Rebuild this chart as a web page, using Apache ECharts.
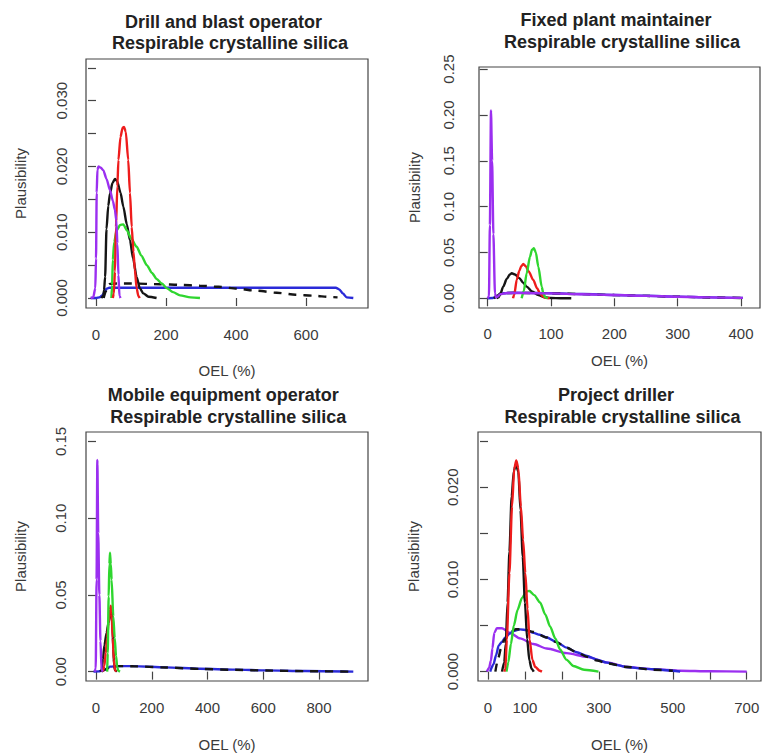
<!DOCTYPE html>
<html>
<head>
<meta charset="utf-8">
<script src="https://cdn.jsdelivr.net/npm/echarts@6/dist/echarts.min.js"></script>
<style>
html,body{margin:0;padding:0;background:#fff;}
#chart{width:763px;height:753px;}
</style>
</head>
<body>
<div id="chart"></div>
<script>
// ---------- Titles ----------
const panelTitles = [
  ['Drill and blast operator', 'Respirable crystalline silica'],
  ['Fixed plant maintainer', 'Respirable crystalline silica'],
  ['Mobile equipment operator', 'Respirable crystalline silica'],
  ['Project driller', 'Respirable crystalline silica']
];
const xAxisName = 'OEL (%)';
const yAxisName = 'Plausibility';

// ---------- Tick values ----------
const d1XTicks = [0, 200, 400, 600];
const d1YTicks = [0, 0.005, 0.01, 0.015, 0.02, 0.025, 0.03, 0.035];
const d1YLabels = [0, 0.01, 0.02, 0.03];
const f2XTicks = [0, 100, 200, 300, 400];
const f2YTicks = [0, 0.05, 0.1, 0.15, 0.2, 0.25];
const m3XTicks = [0, 200, 400, 600, 800];
const m3YTicks = [0, 0.05, 0.1, 0.15];
const p4XTicks = [0, 100, 200, 300, 400, 500, 600, 700];
const p4XLabels = [0, 100, 300, 500, 700];
const p4YTicks = [0, 0.005, 0.01, 0.015, 0.02, 0.025];
const p4YLabels = [0, 0.01, 0.02];

// ---------- Panel 1: Drill and blast operator ----------
const d1Purple = [[-15,0],[-8,0.0001],[-2,0.0015],[0,0.006],[2,0.016],[4,0.0195],[7,0.0200],[14,0.0198],[21,0.0194],[30,0.0181],[40,0.0164],[48,0.0148],[54,0.0134],[58,0.0118],[61,0.0083],[64,0.0035],[67,0.0003],[70,0]];
const d1Black = [[15,0],[21,0.0003],[23,0.0012],[26,0.0032],[30,0.0105],[35,0.0140],[40,0.0159],[47,0.0175],[54,0.0181],[60,0.0178],[70,0.0160],[78,0.0139],[88,0.0112],[97,0.0088],[106,0.0060],[116,0.0032],[125,0.0015],[135,0.0007],[150,0.0002],[173,0]];
const d1Red = [[48,0],[51,0.0007],[54,0.004],[57,0.0108],[61,0.017],[64,0.021],[70,0.0245],[76,0.0259],[80,0.026],[85,0.0253],[92,0.021],[97,0.016],[102,0.0108],[107,0.007],[111,0.0043],[116,0.0015],[121,0.0003],[125,0]];
const d1Green = [[44,0],[46,0.002],[48,0.0058],[52,0.0085],[59,0.0103],[69,0.0111],[78,0.0112],[88,0.0103],[100,0.0091],[116,0.0078],[130,0.0064],[145,0.0050],[160,0.0038],[173,0.0029],[188,0.0022],[202,0.0015],[220,0.0009],[240,0.0004],[270,0.0001],[297,0]];
const d1Blue = [[-15,0],[0,0],[10,0.0001],[18,0.0004],[24,0.0009],[30,0.0014],[38,0.00157],[100,0.00157],[300,0.00157],[500,0.00157],[685,0.00157],[695,0.0013],[705,0.0007],[716,0.0001],[735,0]];
const d1Dashed = [[22,0],[28,0.0010],[33,0.0019],[40,0.00215],[60,0.0022],[100,0.0022],[183,0.0021],[240,0.0020],[297,0.00187],[350,0.0017],[402,0.00142],[460,0.0011],[516,0.0008],[570,0.0005],[621,0.00035],[669,0.00015],[690,0.0001]];

// ---------- Panel 2: Fixed plant maintainer ----------
const f2Purple = [[0,0],[2,0.002],[3.5,0.08],[5.2,0.205],[7,0.15],[9,0.07],[11.5,0.0055],[13,0.001],[16,0.002],[20,0.0045],[30,0.0057],[60,0.0058],[100,0.0053],[150,0.0044],[200,0.0035],[250,0.0026],[300,0.0017],[350,0.001],[403,0.0004]];
const f2Black = [[14,0],[17,0.001],[19.4,0.0036],[24.6,0.0127],[30,0.021],[35,0.026],[38,0.0273],[43,0.026],[50,0.022],[56,0.017],[61.6,0.0127],[70,0.0075],[80,0.0036],[90,0.0012],[100,0.0003],[115,0.0001],[132,0]];
const f2Red = [[40,0],[42,0.004],[45.8,0.020],[50,0.030],[53,0.035],[56.2,0.0374],[60,0.035],[65,0.029],[72,0.020],[78,0.011],[82.6,0.0055],[87,0.002],[91,0.0005],[98,0]];
const f2Green = [[53.7,0],[57,0.008],[61.6,0.0273],[66.8,0.0454],[70,0.053],[73,0.0545],[76,0.050],[80,0.0345],[85.3,0.0127],[88,0.005],[91,0.001],[95,0]];
const f2Blue = [[0,0],[8,0.0003],[14,0.0015],[19,0.0045],[25,0.0055],[40,0.006],[80,0.0058],[100,0.0055],[150,0.0046],[200,0.0036],[250,0.0027],[300,0.0018],[350,0.001],[403,0.0004]];
const f2Dashed = [[10,0],[16,0.003],[20,0.0052],[30,0.0057],[60,0.0058],[100,0.0054],[150,0.0045],[200,0.0035],[250,0.0026],[300,0.0017],[350,0.0009],[403,0.0003]];

// ---------- Panel 3: Mobile equipment operator ----------
const m3Purple = [[-4,0],[-1,0.002],[2,0.06],[4.8,0.138],[8,0.09],[12,0.05],[16,0.02],[20,0.001],[24,0]];
const m3Black = [[15,0],[20,0.001],[25,0.008],[30,0.017],[38,0.0253],[45,0.032],[52,0.038],[56,0.0405],[59,0.03],[62,0.015],[65,0.004],[68,0.001],[75,0]];
const m3Red = [[25,0],[30,0.004],[35,0.012],[40,0.022],[45,0.032],[50,0.040],[53,0.043],[56,0.038],[60,0.022],[64,0.008],[68,0.001],[72,0]];
const m3Green = [[40,0],[42,0.012],[45.4,0.049],[48,0.07],[50.2,0.0775],[53,0.070],[56,0.060],[62,0.036],[67,0.022],[72,0.010],[76,0.003],[80,0.0005],[86,0]];
const m3Blue = [[-9,0],[10,0.0002],[25,0.0008],[40,0.002],[50,0.0033],[80,0.0036],[134,0.0036],[250,0.0028],[373,0.0019],[500,0.0013],[612,0.0008],[750,0.0004],[923,0]];
const m3Dashed = [[20,0],[35,0.0015],[50,0.0032],[80,0.0036],[134,0.0035],[250,0.0027],[373,0.0018],[500,0.0012],[612,0.0007],[750,0.0003],[923,0]];

// ---------- Panel 4: Project driller ----------
const p4Purple = [[-3,0],[3,0.0004],[8,0.0012],[12,0.0025],[17,0.0042],[24,0.0047],[38,0.0047],[60,0.0042],[87,0.0036],[123,0.0030],[159,0.0025],[213,0.0020],[268,0.0016],[321,0.0010],[376,0.0005],[448,0.00025],[520,0.0001],[600,0.00003],[700,0]];
const p4Black = [[38,0],[44,0.001],[48,0.003],[53,0.0075],[58,0.013],[64,0.019],[70,0.0218],[76,0.0225],[82,0.0217],[88,0.0175],[94,0.0125],[100,0.0075],[106,0.0035],[112,0.0012],[118,0.0003],[124,0]];
const p4Red = [[44,0],[47,0.0003],[51,0.0035],[58,0.0107],[65,0.0179],[71,0.0220],[76.5,0.0229],[82,0.0221],[89,0.0179],[95,0.0143],[101,0.0107],[107,0.0068],[112.5,0.0035],[120,0.0013],[128,0.0005],[140,0.0001],[146,0]];
const p4Green = [[50,0],[55,0.001],[62,0.003],[70,0.005],[80,0.0067],[92,0.0080],[105,0.0087],[112,0.00875],[125,0.0083],[141,0.0075],[155,0.0062],[168,0.0049],[182,0.0036],[195,0.0024],[212,0.0013],[231,0.0006],[260,0.0002],[299,0]];
const p4Blue = [[6,0],[15,0.0008],[22,0.0018],[28.7,0.0028],[37,0.0032],[46.8,0.0037],[58,0.0041],[69,0.0044],[87,0.00458],[105,0.0045],[123,0.0042],[140,0.0040],[159,0.0037],[185,0.0032],[213,0.0026],[240,0.0021],[268,0.0017],[295,0.0013],[321.6,0.00097],[350,0.0007],[376,0.0005],[410,0.00035],[448,0.00025],[500,0.0001],[520,0]];
const p4Dashed = [[20,0],[28,0.0015],[35,0.0025],[45,0.0035],[58,0.0042],[75,0.0046],[95,0.0046],[123,0.0043],[159,0.0037],[185,0.0032],[213,0.0026],[240,0.0021],[268,0.0016],[295,0.0012],[322,0.0009],[376,0.0005],[448,0.0002],[500,0.0001]];

// ---------- Styling ----------
const COL = {purple:'#9b2ff0', black:'#151515', red:'#ee1c1c', green:'#2fd62f', blue:'#2a2ad8'};
const FONT = '"Liberation Sans", Arial, Helvetica, sans-serif';
const TXT = '#3a3a3a';

const panels = [
  {grid:{left:86, top:59, width:282, height:249}, x:[-28.6, 777], y:[-0.00152, 0.03634],
   xt:d1XTicks, xl:d1XTicks, yt:d1YTicks, yl:d1YLabels, dec:3, ylm:16.8, xlm:19, xng:54.5, yng:58,
   t1:[223.5, 22], t2:[230, 43],
   series:[['blue',d1Blue],['dashed',d1Dashed],['black',d1Black],['green',d1Green],['red',d1Red],['purple',d1Purple]]},
  {grid:{left:479, top:67, width:281, height:241}, x:[-13.7, 430], y:[-0.0106, 0.2523],
   xt:f2XTicks, xl:f2XTicks, yt:f2YTicks, yl:f2YTicks, dec:2, ylm:23, xlm:17.5, xng:45, yng:57,
   t1:[616, 20], t2:[622, 41.7],
   series:[['blue',f2Blue],['dashed',f2Dashed],['black',f2Black],['red',f2Red],['green',f2Green],['purple',f2Purple]]},
  {grid:{left:86, top:432, width:282, height:250}, x:[-35.9, 975.7], y:[-0.0061, 0.1562],
   xt:m3XTicks, xl:m3XTicks, yt:m3YTicks, yl:m3YTicks, dec:2, ylm:18.5, xlm:19, xng:56, yng:58,
   t1:[223.3, 395], t2:[228.3, 416.7],
   series:[['blue',m3Blue],['dashed',m3Dashed],['black',m3Black],['red',m3Red],['green',m3Green],['purple',m3Purple]]},
  {grid:{left:478, top:432, width:283, height:250}, x:[-27, 738.6], y:[-0.00102, 0.0260],
   xt:p4XTicks, xl:p4XLabels, yt:p4YTicks, yl:p4YLabels, dec:3, ylm:18.5, xlm:19, xng:56, yng:57,
   t1:[616, 395], t2:[622.5, 416.7],
   series:[['purple',p4Purple],['blue',p4Blue],['dashed',p4Dashed],['green',p4Green],['black',p4Black],['red',p4Red]]}
];

const grids = [], xAxes = [], yAxes = [], series = [], graphics = [];
panels.forEach((p, i) => {
  grids.push(Object.assign({show:true, borderColor:'#444', borderWidth:1.2, backgroundColor:'#fff'}, p.grid));
  xAxes.push({
    type:'value', gridIndex:i, min:p.x[0], max:p.x[1],
    name:xAxisName, nameLocation:'middle', nameGap:p.xng,
    nameTextStyle:{fontFamily:FONT, fontSize:15, color:TXT},
    axisLine:{show:false}, splitLine:{show:false},
    axisTick:{show:true, length:8, customValues:p.xt, lineStyle:{color:'#444', width:1.2}},
    axisLabel:{customValues:p.xl, margin:p.xlm, fontFamily:FONT, fontSize:15, color:TXT, formatter:v => String(v)}
  });
  yAxes.push({
    type:'value', gridIndex:i, min:p.y[0], max:p.y[1],
    name:yAxisName, nameLocation:'middle', nameGap:p.yng,
    nameTextStyle:{fontFamily:FONT, fontSize:15, color:TXT},
    axisLine:{show:false}, splitLine:{show:false},
    axisTick:{show:true, length:8, customValues:p.yt, lineStyle:{color:'#444', width:1.2}},
    axisLabel:{customValues:p.yl, rotate:90, margin:p.ylm, fontFamily:FONT, fontSize:15, color:TXT,
      formatter:v => Number(v).toFixed(p.dec)}
  });
  p.series.forEach(([kind, data]) => {
    const dashed = kind === 'dashed';
    series.push({
      type:'line', xAxisIndex:i, yAxisIndex:i, data:data,
      showSymbol:false, symbol:'none', smooth:0.25, smoothMonotone:'x', silent:true, animation:false,
      lineStyle:{color: dashed ? '#151515' : COL[kind], width:2.4, type: dashed ? [8,7] : 'solid'}
    });
  });
  graphics.push({type:'text', x:p.t1[0], y:p.t1[1], style:{text:panelTitles[i][0], align:'center', verticalAlign:'middle', font:'bold 18px ' + FONT, fill:'#222'}});
  graphics.push({type:'text', x:p.t2[0], y:p.t2[1], style:{text:panelTitles[i][1], align:'center', verticalAlign:'middle', font:'bold 18px ' + FONT, fill:'#222'}});
});

const chart = echarts.init(document.getElementById('chart'), null, {renderer:'svg'});
chart.setOption({
  animation:false,
  backgroundColor:'#fff',
  grid:grids, xAxis:xAxes, yAxis:yAxes, series:series, graphic:graphics
});
</script>
</body>
</html>
